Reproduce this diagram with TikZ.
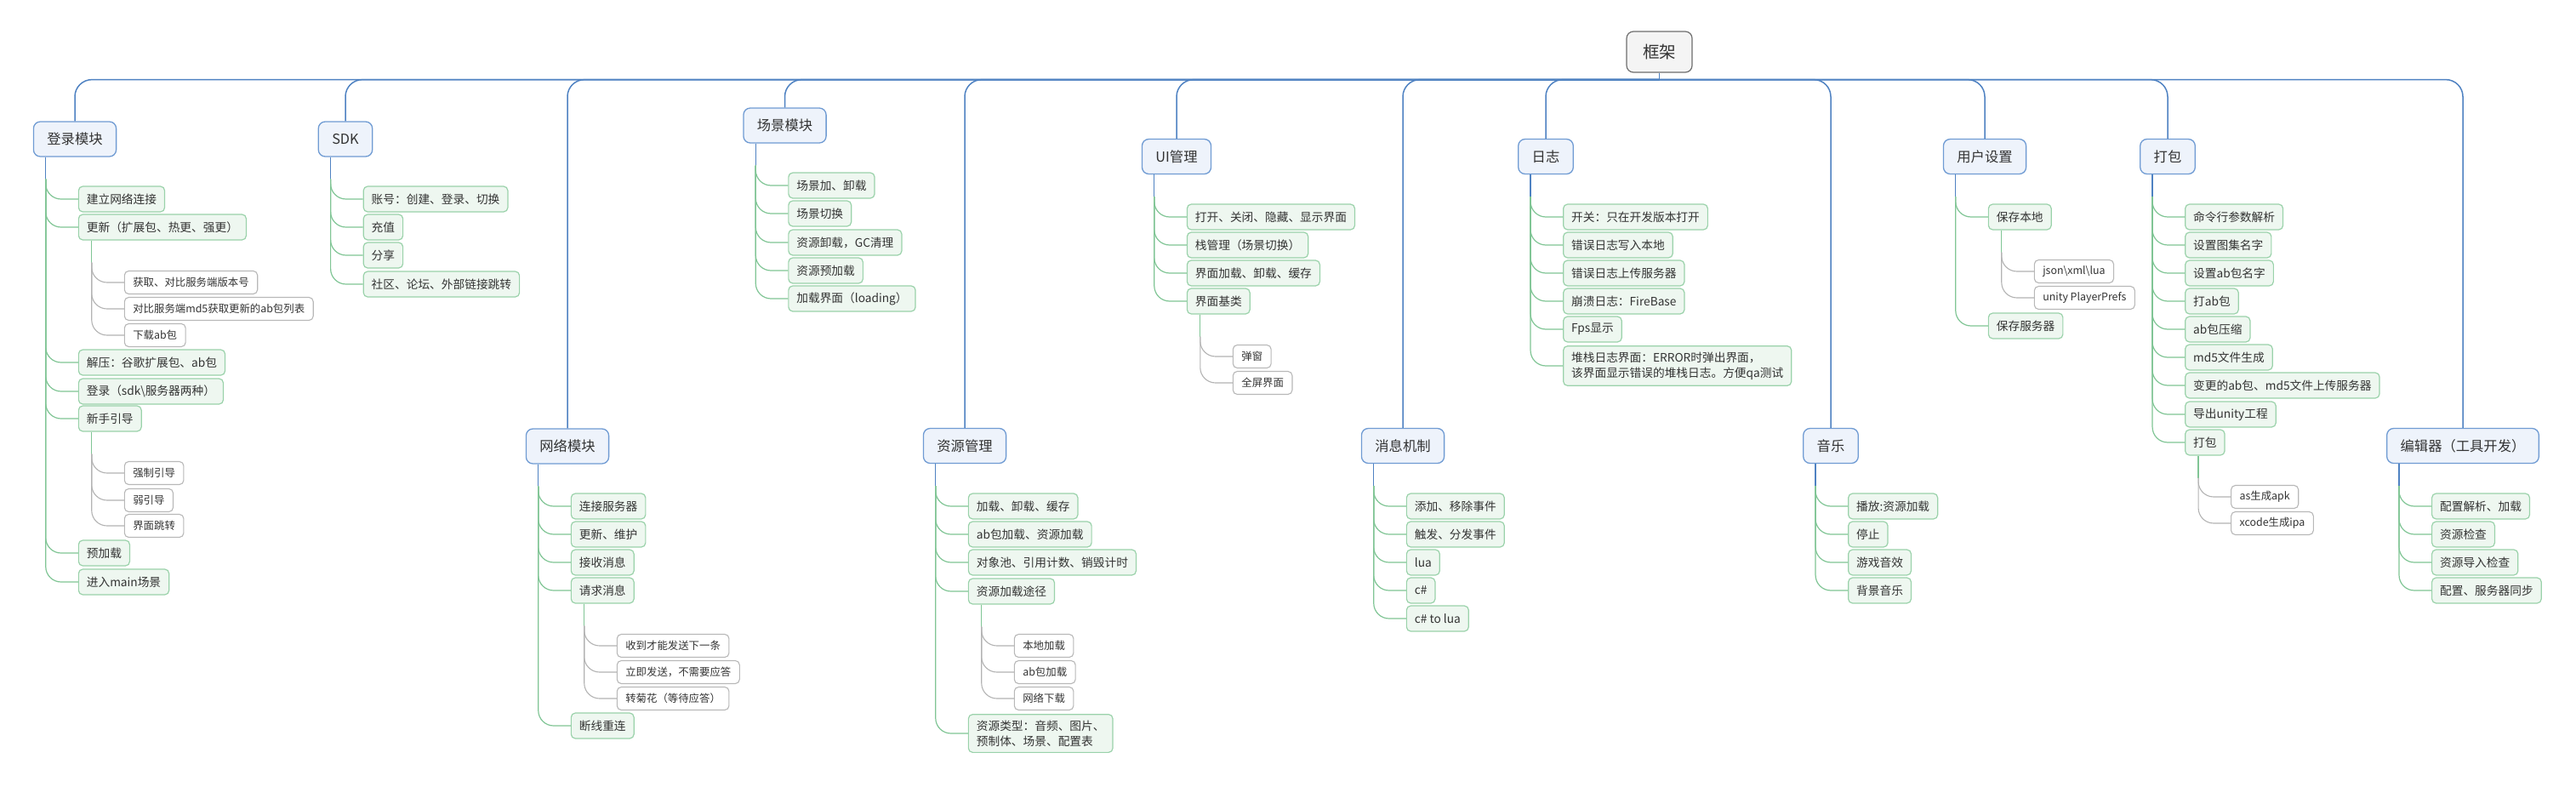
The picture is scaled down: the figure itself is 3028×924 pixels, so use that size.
\documentclass[tikz,border=0pt]{standalone}
\usepackage{fontspec}
\setmainfont{Noto Sans CJK SC}
\usetikzlibrary{calc}
\definecolor{ink}{HTML}{333333}
\definecolor{rootfill}{HTML}{F4F4F4}
\definecolor{rootedge}{HTML}{6E6E6E}
\definecolor{mainfill}{HTML}{EEF3FB}
\definecolor{mainedge}{HTML}{6F9BD3}
\definecolor{subfill}{HTML}{EEF7F0}
\definecolor{subedge}{HTML}{9AD2AA}
\definecolor{leafedge}{HTML}{B8B8B8}
\definecolor{wireblue}{HTML}{4F82C2}
\definecolor{wiregreen}{HTML}{80C595}
\definecolor{wiregrey}{HTML}{B3B3B3}

\tikzset{
  rootnode/.style={draw=rootedge, fill=rootfill, line width=1.2pt, rounded corners=8pt,
    minimum height=48pt, inner xsep=19pt, text=ink, font=\fontsize{19.5}{22}\selectfont},
  mainnode/.style={draw=mainedge, fill=mainfill, line width=1.3pt, rounded corners=8pt,
    minimum height=41pt, inner xsep=16pt, text=ink, font=\fontsize{16.3}{19}\selectfont},
  subnode/.style={draw=subedge, fill=subfill, line width=1.2pt, rounded corners=5pt,
    minimum height=30pt, inner xsep=9.5pt, inner ysep=7pt, anchor=west, align=left,
    text=ink, font=\fontsize{13.7}{18}\selectfont},
  leafnode/.style={draw=leafedge, fill=white, line width=1.1pt, rounded corners=5pt,
    minimum height=27pt, inner xsep=10pt, anchor=west, text=ink,
    font=\fontsize{12.4}{15}\selectfont},
  buslink/.style={draw=wireblue, line width=1.5pt, rounded corners=20pt},
  bluelink/.style={draw=wireblue, line width=1.3pt},
  greenlink/.style={draw=wiregreen, line width=1.2pt},
  greylink/.style={draw=wiregrey, line width=1.1pt}
}

% children of a node: name, node style, link style, list of text/y
\newcommand{\twigs}[4]{%
  \foreach \txt/\yy [count=\i] in {#4} {
    \node[#2] (#1-\i) at (#1-j |- 0,\yy) [xshift=38pt] {\txt};
    \draw[#3, rounded corners=18pt] (#1-j) |- (#1-\i.west);
  }}
% stem below a node: name, offset, link style
\newcommand{\fork}[3]{%
  \coordinate (#1-j) at ($(#1.south west)+(#2,26)$);
  \draw[#3] (#1.south west -| #1-j) -- (#1-j);}

\begin{document}
\begin{tikzpicture}[x=1pt, y=-1pt]
	\fill[white] (0,0) rectangle (3028,924);
	\useasboundingbox (0,0) rectangle (3028,924);
	
	% root and first level
	\node[rootnode] (root) at (1950.5,61) {框架};
	\coordinate (bus) at ($(root.south)+(0,8)$);
	\draw[bluelink] (root.south) -- (bus);
	
	\node[mainnode] (dl) at (88,163.5) {登录模块};
	\node[mainnode] (sdk) at (406,163.5) {SDK};
	\node[mainnode] (cj) at (922.5,147.5) {场景模块};
	\node[mainnode] (wl) at (667,524.5) {网络模块};
	\node[mainnode] (zy) at (1134,524) {资源管理};
	\node[mainnode] (ui) at (1383,184) {UI管理};
	\node[mainnode] (xx) at (1649,524) {消息机制};
	\node[mainnode] (rz) at (1817,184) {日志};
	\node[mainnode] (yy) at (2152,524) {音乐};
	\node[mainnode] (yh) at (2333,184) {用户设置};
	\node[mainnode] (db) at (2548,184) {打包};
	\node[mainnode] (bj) at (2895,524) {编辑器（工具开发）};
	
	\foreach \m in {dl,sdk,cj,wl,zy,ui,xx,rz,yy,yh,db,bj} {
		\draw[buslink] (bus) -| (\m.north);
		\fork{\m}{15}{bluelink}
	}
	
	% second level
	\twigs{dl}{subnode}{greenlink}{建立网络连接/234, 更新（扩展包、热更、强更）/267,
		解压：谷歌扩展包、ab包/426, 登录（sdk\textbackslash 服务器两种）/460, 新手引导/492,
		预加载/650, 进入main场景/684}
	\twigs{sdk}{subnode}{greenlink}{账号：创建、登录、切换/234, 充值/267, 分享/300,
		社区、论坛、外部链接跳转/334}
	\twigs{cj}{subnode}{greenlink}{场景加、卸载/218, 场景切换/251, 资源卸载，GC清理/285,
		资源预加载/318, 加载界面（loading）/351}
	\twigs{ui}{subnode}{greenlink}{打开、关闭、隐藏、显示界面/255, 栈管理（场景切换）/288,
		界面加载、卸载、缓存/321, 界面基类/354}
	\twigs{wl}{subnode}{greenlink}{连接服务器/595, 更新、维护/628, 接收消息/661,
		请求消息/694, 断线重连/853}
	\twigs{zy}{subnode}{greenlink}{加载、卸载、缓存/595, ab包加载、资源加载/628,
		对象池、引用计数、销毁计时/661, 资源加载途径/695,
		{资源类型：音频、图片、\\预制体、场景、配置表}/862}
	\twigs{xx}{subnode}{greenlink}{添加、移除事件/595, 触发、分发事件/628, lua/661,
		c\#/694, c\# to lua/727}
	\twigs{rz}{subnode}{greenlink}{开关：只在开发版本打开/255, 错误日志写入本地/288,
		错误日志上传服务器/321, 崩溃日志：FireBase/354, Fps显示/387,
		{堆栈日志界面：ERROR时弹出界面，\\该界面显示错误的堆栈日志。方便qa测试}/430}
	\twigs{yy}{subnode}{greenlink}{播放:资源加载/595, 停止/628, 游戏音效/661, 背景音乐/694}
	\twigs{yh}{subnode}{greenlink}{保存本地/255, 保存服务器/383}
	\twigs{db}{subnode}{greenlink}{命令行参数解析/255, 设置图集名字/288, 设置ab包名字/321,
		打ab包/354, ab包压缩/387, md5文件生成/420, 变更的ab包、md5文件上传服务器/453,
		导出unity工程/487, 打包/520}
	\twigs{bj}{subnode}{greenlink}{配置解析、加载/595, 资源检查/628, 资源导入检查/661,
		配置、服务器同步/694}
	
	% third level
	\fork{dl-2}{16}{greenlink}
	\twigs{dl-2}{leafnode}{greylink}{获取、对比服务端版本号/332,
		对比服务端md5获取更新的ab包列表/363, 下载ab包/394}
	\fork{dl-5}{16}{greenlink}
	\twigs{dl-5}{leafnode}{greylink}{强制引导/556, 弱引导/588, 界面跳转/618}
	\fork{ui-4}{16}{greenlink}
	\twigs{ui-4}{leafnode}{greylink}{弹窗/419, 全屏界面/450}
	\fork{wl-4}{16}{greenlink}
	\twigs{wl-4}{leafnode}{greylink}{收到才能发送下一条/759, 立即发送，不需要应答/790,
		转菊花（等待应答）/821}
	\fork{zy-4}{16}{greenlink}
	\twigs{zy-4}{leafnode}{greylink}{本地加载/759, ab包加载/790, 网络下载/821}
	\fork{yh-1}{16}{greenlink}
	\twigs{yh-1}{leafnode}{greylink}{json\textbackslash xml\textbackslash lua/319,
		unity PlayerPrefs/350}
	\fork{db-9}{16}{greenlink}
	\twigs{db-9}{leafnode}{greylink}{as生成apk/584, xcode生成ipa/615}
\end{tikzpicture}
\end{document}
